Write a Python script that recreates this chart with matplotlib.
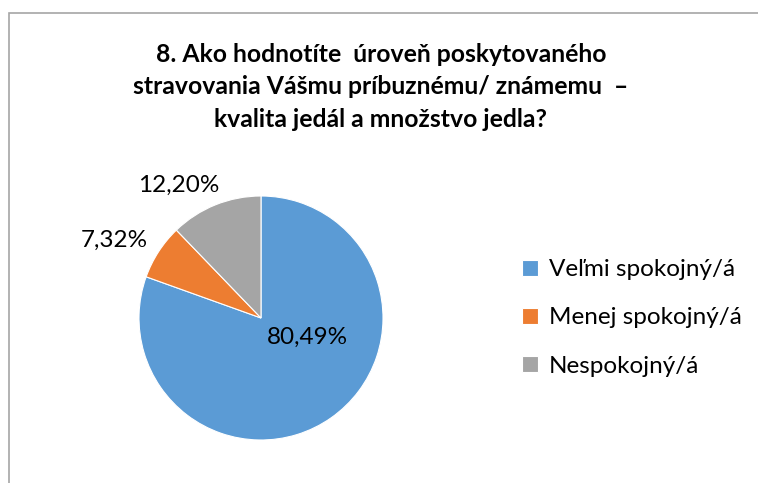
import numpy as np
import matplotlib.pyplot as plt
from matplotlib.patches import Rectangle

plt.rcParams['font.family'] = ['Lato', 'DejaVu Sans']

# Data
categories = ['Veľmi spokojný/á', 'Menej spokojný/á', 'Nespokojný/á']
values = [80.49, 7.32, 12.20]
labels = ['80,49%', '7,32%', '12,20%']
colors = ['#5B9BD5', '#ED7D31', '#A5A5A5']
title = ('8. Ako hodnotíte  úroveň poskytovaného\n'
         'stravovania Vášmu príbuznému/ známemu  –\n'
         'kvalita jedál a množstvo jedla?')

W, H = 758, 483
fig = plt.figure(figsize=(W / 100, H / 100), dpi=100)

# chart frame (cropped at right and bottom)
fig.patches.append(Rectangle((8.5 / W, -0.1), 1.2, (H - 13) / H + 0.1,
                             transform=fig.transFigure, fill=False,
                             edgecolor='#A6A6A6', linewidth=1.2))

fig.text(381 / W, 1 - 87 / H, title, ha='center', va='center',
         fontsize=17.8, fontweight='bold', linespacing=1.48, color='#000000')

# pie axes: center (261, 318), radius 122 px
cx, cy, r = 261, 318, 122
ax = fig.add_axes([(cx - r) / W, (H - cy - r) / H, 2 * r / W, 2 * r / H])
wedges, _ = ax.pie(values, colors=colors, startangle=90, counterclock=False,
                   radius=1, wedgeprops=dict(edgecolor='white', linewidth=0.8))
ax.set_xlim(-1, 1)
ax.set_ylim(-1, 1)
ax.set_aspect('equal')
ax.axis('off')

# label placement: angle shift from wedge middle and radial distance
label_shift = [32.5, 5, 10]
label_dist = [0.41, 1.36, 1.28]
for w, lab, sh, d in zip(wedges, labels, label_shift, label_dist):
    mid = np.deg2rad((w.theta1 + w.theta2) / 2 + sh)
    ax.text(d * np.cos(mid), d * np.sin(mid), lab, ha='center', va='center',
            fontsize=17.5, color='#000000', clip_on=False)

# legend
leg = fig.legend(wedges, categories, loc='center left',
                 bbox_to_anchor=(500 / W, 1 - 318 / H), frameon=False,
                 fontsize=17.5, handlelength=0.65, handleheight=0.65,
                 handletextpad=0.45, labelspacing=1.12)

fig.savefig('out.png', dpi=100)
